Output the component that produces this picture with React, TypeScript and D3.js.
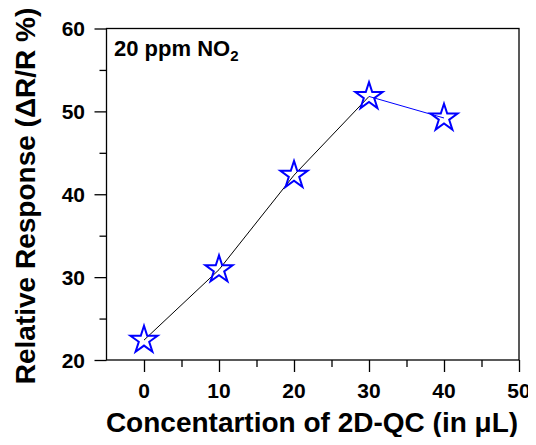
import { useEffect, useRef } from "react";
import * as d3 from "d3";

const concentration = [0, 10, 20, 30, 40];
const response = [22.4, 30.9, 42.3, 51.8, 49.2];
const xTicks = [0, 10, 20, 30, 40, 50];
const yTicks = [20, 30, 40, 50, 60];

export default function App() {
  const svgRef = useRef<SVGSVGElement>(null);

  useEffect(() => {
    const svg = d3.select(svgRef.current);
    svg.selectAll("*").remove();

    const left = 106.5, right = 519, top = 28.5, bottom = 360;
    const font = "'Liberation Sans', Arial, sans-serif";

    const x = d3.scaleLinear().domain([-5, 50]).range([left, right]);
    const y = d3.scaleLinear().domain([20, 60]).range([bottom, top]);

    // frame
    svg.append("rect")
      .attr("x", left).attr("y", top)
      .attr("width", right - left).attr("height", bottom - top)
      .attr("fill", "none").attr("stroke", "#000").attr("stroke-width", 1.3);

    // x axis
    const xAxis = svg.append("g").attr("transform", `translate(0,${bottom})`);
    xAxis.call(d3.axisBottom(x).tickValues(d3.range(0, 51, 5)).tickSize(7).tickFormat(() => ""));
    xAxis.call(g => g.select(".domain").remove());
    xAxis.selectAll(".tick line")
      .attr("y2", (d: any) => (d % 10 === 0 ? 12 : 7))
      .attr("stroke-width", 1.3);

    svg.append("g").selectAll("text").data(xTicks).enter().append("text")
      .attr("x", d => x(d)).attr("y", 398)
      .attr("text-anchor", "middle")
      .attr("font-family", font).attr("font-weight", "bold").attr("font-size", 21)
      .text(d => d);

    // y axis
    const yAxis = svg.append("g").attr("transform", `translate(${left},0)`);
    yAxis.call(d3.axisLeft(y).tickValues(d3.range(20, 61, 5)).tickSize(7).tickFormat(() => ""));
    yAxis.call(g => g.select(".domain").remove());
    yAxis.selectAll(".tick line")
      .attr("x2", (d: any) => (d % 10 === 0 ? -12 : -7))
      .attr("stroke-width", 1.3);

    svg.append("g").selectAll("text").data(yTicks).enter().append("text")
      .attr("x", 85).attr("y", d => y(d) + 7.5)
      .attr("text-anchor", "end")
      .attr("font-family", font).attr("font-weight", "bold").attr("font-size", 21)
      .text(d => d);

    // axis titles
    svg.append("text")
      .attr("x", 312).attr("y", 432)
      .attr("text-anchor", "middle")
      .attr("font-family", font).attr("font-weight", "bold").attr("font-size", 28)
      .text("Concentartion of 2D-QC (in μL)");

    svg.append("text")
      .attr("transform", "translate(35,196) rotate(-90)")
      .attr("text-anchor", "middle")
      .attr("font-family", font).attr("font-weight", "bold").attr("font-size", 28)
      .text("Relative Response (ΔR/R %)");

    // annotation
    const note = svg.append("text")
      .attr("x", 114).attr("y", 56)
      .attr("font-family", font).attr("font-weight", "bold").attr("font-size", 22);
    note.append("tspan").text("20 ppm NO");
    note.append("tspan").attr("font-size", 15).attr("dy", 5).text("2");

    const pts = concentration.map((c, i) => [x(c), y(response[i])] as [number, number]);
    const line = d3.line();

    svg.append("path")
      .attr("d", line(pts.slice(0, 4)))
      .attr("fill", "none").attr("stroke", "#000").attr("stroke-width", 1);
    svg.append("path")
      .attr("d", line(pts.slice(3)))
      .attr("fill", "none").attr("stroke", "#0000ff").attr("stroke-width", 1);

    const star = d3.symbol().type(d3.symbolStar).size(230);
    svg.append("g").selectAll("path").data(pts).enter().append("path")
      .attr("transform", d => `translate(${d[0]},${d[1]})`)
      .attr("d", star)
      .attr("fill", "none").attr("stroke", "#0000ff").attr("stroke-width", 2);
  }, []);

  return <svg ref={svgRef} width={536} height={445} style={{ display: "block", margin: -8 }} />;
}
